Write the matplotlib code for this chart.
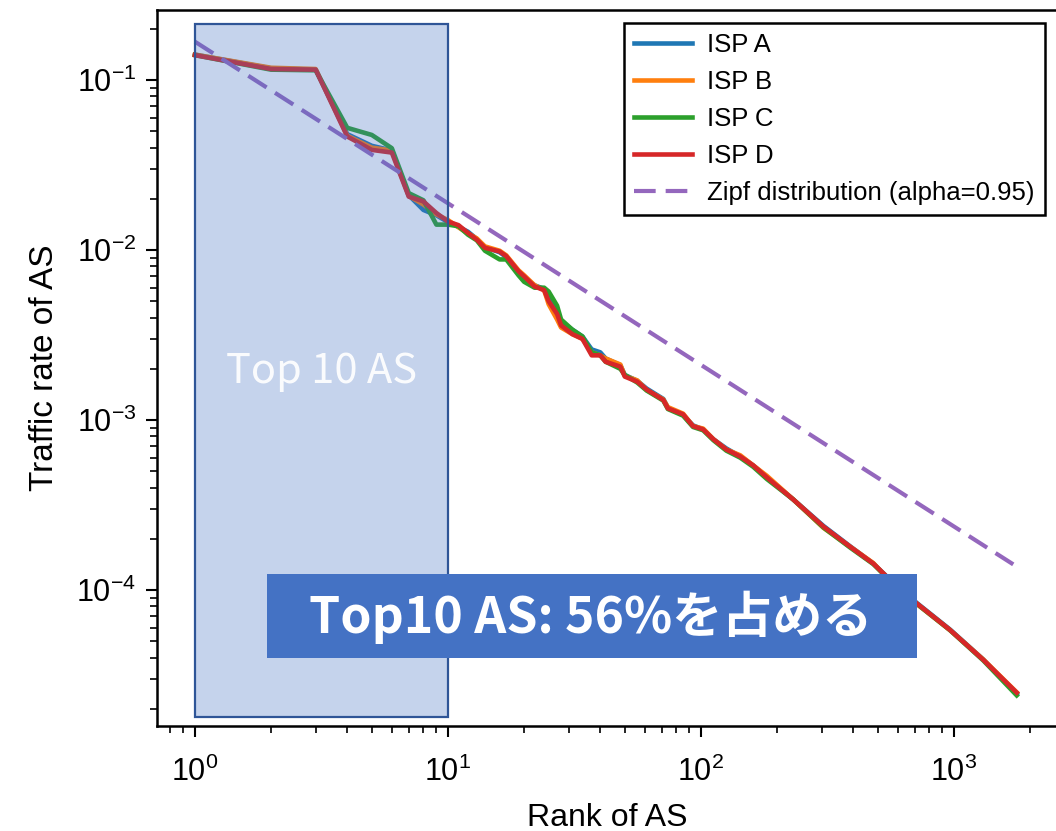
import matplotlib
matplotlib.use("Agg")
import matplotlib.pyplot as plt
from matplotlib.patches import Rectangle

plt.rcParams['font.family'] = ['Liberation Sans', 'DejaVu Sans']
plt.rcParams['mathtext.fontset'] = 'custom'
plt.rcParams['mathtext.rm'] = 'Liberation Sans'
plt.rcParams['mathtext.it'] = 'Liberation Sans:italic'
plt.rcParams['mathtext.bf'] = 'Liberation Sans:bold'

# ---------------- data ----------------
rank = [1, 2, 3, 4, 5, 6, 7, 8, 9, 10, 11, 12, 13, 14, 16, 17, 19, 20, 22, 24,
        25, 27, 28, 31, 34, 37, 40, 42, 48, 50, 56, 61, 71, 74, 85, 93, 102,
        112, 126, 143, 161, 182, 232, 305, 388, 480, 542, 712, 965, 1306, 1770]

isp_a = [0.141, 0.117, 0.115, 0.0480, 0.0410, 0.0385, 0.0210, 0.0172, 0.0160, 0.0146,
         0.0137, 0.0128, 0.0116, 0.0104, 0.0097, 0.0091, 0.0074, 0.0069, 0.0062, 0.0059,
         0.0052, 0.0044, 0.0038, 0.0034, 0.0031, 0.0026, 0.0025, 0.0023, 0.00210, 0.00184,
         0.00170, 0.00153, 0.00133, 0.00118, 0.00107, 0.00093, 0.00088, 0.00077, 0.00068,
         0.00061, 0.00054, 0.00046, 0.00034, 0.000238, 0.000181, 0.000143, 0.000120,
         8.4e-5, 5.85e-5, 3.9e-5, 2.45e-5]

isp_b = [0.141, 0.118, 0.116, 0.0470, 0.0400, 0.0385, 0.0208, 0.0185, 0.0162, 0.0150,
         0.0136, 0.0125, 0.0117, 0.0105, 0.0099, 0.0093, 0.0076, 0.0071, 0.0062, 0.0058,
         0.0048, 0.0039, 0.0035, 0.0032, 0.0030, 0.0025, 0.0024, 0.0023, 0.00212, 0.00182,
         0.00171, 0.00150, 0.00132, 0.00119, 0.00109, 0.00092, 0.00089, 0.00077, 0.00067,
         0.00062, 0.00054, 0.00047, 0.00034, 0.000232, 0.000180, 0.000144, 0.000118,
         8.3e-5, 5.8e-5, 3.9e-5, 2.5e-5]

isp_c = [0.140, 0.115, 0.114, 0.0523, 0.0475, 0.0397, 0.0216, 0.0196, 0.0141, 0.0141,
         0.0138, 0.0123, 0.0114, 0.0099, 0.0088, 0.0088, 0.0071, 0.0065, 0.0060, 0.0060,
         0.0057, 0.0047, 0.0039, 0.0034, 0.0031, 0.0025, 0.0024, 0.0022, 0.00200, 0.00184,
         0.00166, 0.00149, 0.00130, 0.00116, 0.00106, 0.00091, 0.00087, 0.00076, 0.00066,
         0.00060, 0.00053, 0.00045, 0.00034, 0.000233, 0.000178, 0.000142, 0.000119,
         8.3e-5, 5.8e-5, 3.85e-5, 2.4e-5]

isp_d = [0.140, 0.116, 0.115, 0.0465, 0.0388, 0.0374, 0.0206, 0.0193, 0.0165, 0.0147,
         0.0140, 0.0126, 0.0115, 0.0103, 0.0098, 0.0092, 0.0075, 0.0070, 0.0061, 0.0058,
         0.0050, 0.0042, 0.0036, 0.0032, 0.0030, 0.0024, 0.0024, 0.0022, 0.00206, 0.00180,
         0.00168, 0.00151, 0.00131, 0.00117, 0.00108, 0.00092, 0.00088, 0.00077, 0.00067,
         0.00061, 0.00054, 0.00046, 0.00034, 0.000236, 0.000180, 0.000143, 0.000120,
         8.35e-5, 5.82e-5, 3.88e-5, 2.49e-5]

zipf_rank = [1, 1715]
zipf_value = [0.168, 1.415e-4]

series_names = ['ISP A', 'ISP B', 'ISP C', 'ISP D']
series_values = [isp_a, isp_b, isp_c, isp_d]
series_colors = ['#1f77b4', '#ff7f0e', '#2ca02c', '#d62728']

top_range = [1, 10]
top_yrange = [1.79e-5, 0.213]

# ---------------- figure ----------------
W, H = 1056, 831
fig = plt.figure(figsize=(W / 100, H / 100), dpi=100)
ax = fig.add_axes([157 / W, 1 - 726 / H, (1058 - 157) / W, (726 - 10) / H])

for name, vals, col in zip(series_names, series_values, series_colors):
    ax.plot(rank, vals, color=col, lw=3.3, label=name, zorder=2)

ax.plot(zipf_rank, zipf_value, color='#9467bd', lw=3.0, dashes=(5.2, 2.4),
        label='Zipf distribution (alpha=0.95)', zorder=2)

ax.set_xscale('log')
ax.set_yscale('log')
ax.set_xlim(0.708, 2577)
ax.set_ylim(1.585e-5, 0.258)

ax.set_xlabel('Rank of AS', fontsize=23, labelpad=11)
ax.set_ylabel('Traffic rate of AS', fontsize=24, labelpad=12)

for s in ax.spines.values():
    s.set_linewidth(1.8)
ax.tick_params(axis='both', which='major', labelsize=22, length=8, width=1.5)
ax.tick_params(axis='x', which='major', pad=14)
ax.tick_params(axis='y', which='major', pad=7)
ax.tick_params(axis='both', which='minor', length=5, width=1.2)

leg = ax.legend(loc='upper right', fontsize=18.5, fancybox=False, framealpha=1,
                edgecolor='black', handlelength=2.25, handletextpad=0.6,
                borderaxespad=0.5)
leg.get_frame().set_linewidth(1.8)
leg.set_zorder(10)

# highlighted top-10 region (overlay)
ax.add_patch(Rectangle((top_range[0], top_yrange[0]), top_range[1] - top_range[0],
                       top_yrange[1] - top_yrange[0],
                       facecolor=(0x44 / 255, 0x72 / 255, 0xc4 / 255, 0.31),
                       edgecolor='#2f5597', lw=1.6, zorder=4))

fig.text(322 / W, 1 - 372 / H, 'Top 10 AS', color='white', alpha=0.92,
         fontsize=30, family=['Noto Sans CJK JP', 'DejaVu Sans'],
         ha='center', va='center', zorder=6)

# annotation box
fig.patches.append(Rectangle((267 / W, 1 - 658 / H), 650 / W, 84 / H,
                             transform=fig.transFigure, facecolor='#4472c4',
                             edgecolor='none', zorder=7))
fig.text(591 / W, 1 - 617 / H, 'Top10 AS: 56%を占める', color='white',
         fontsize=36, fontweight='bold', family=['Noto Sans CJK JP', 'DejaVu Sans'],
         ha='center', va='center', zorder=8)

fig.savefig('out.png', dpi=100)
